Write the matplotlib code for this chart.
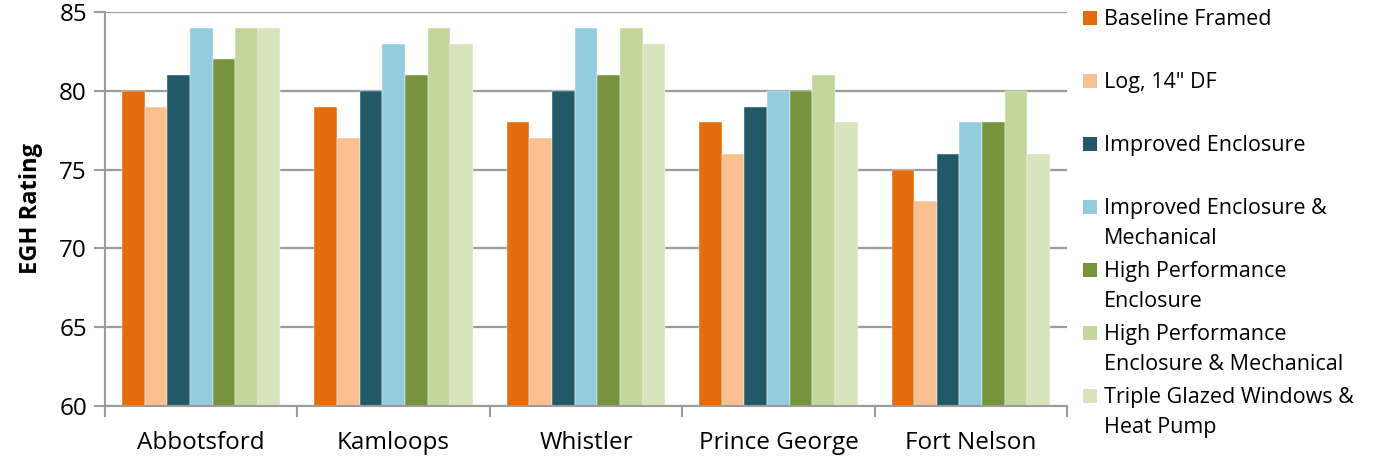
import matplotlib.pyplot as plt
from matplotlib.patches import Rectangle
import numpy as np

plt.rcParams['font.family'] = ['Open Sans', 'DejaVu Sans']

cities = ["Abbotsford", "Kamloops", "Whistler", "Prince George", "Fort Nelson"]

series_names = [
    "Baseline Framed",
    "Log, 14\" DF",
    "Improved Enclosure",
    "Improved Enclosure &\nMechanical",
    "High Performance\nEnclosure",
    "High Performance\nEnclosure & Mechanical",
    "Triple Glazed Windows &\nHeat Pump",
]

baseline_framed = [80, 79, 78, 78, 75]
log_14_df = [79, 77, 77, 76, 73]
improved_enclosure = [81, 80, 80, 79, 76]
improved_enc_mech = [84, 83, 84, 80, 78]
high_perf_enclosure = [82, 81, 81, 80, 78]
high_perf_enc_mech = [84, 84, 84, 81, 80]
triple_glazed_hp = [84, 83, 83, 78, 76]

series = [baseline_framed, log_14_df, improved_enclosure, improved_enc_mech,
          high_perf_enclosure, high_perf_enc_mech, triple_glazed_hp]
colors = ["#E46C0A", "#FAC090", "#215968", "#93CDDD",
          "#77933C", "#C3D69B", "#D7E4BD"]

W, H = 1380, 466
fig = plt.figure(figsize=(W / 100, H / 100), dpi=100)
ax = fig.add_axes([105 / W, 1 - 406 / H, 962 / W, 394 / H])

x = np.arange(len(cities))
width = 1 / 8.5
for i, (vals, c) in enumerate(zip(series, colors)):
    offs = (i - 3) * width
    ax.bar(x + offs, vals, width, color=c, zorder=2,
           edgecolor="white", linewidth=0.3)

ax.set_xlim(-0.5, len(cities) - 0.5)
ax.set_ylim(60, 85)
ax.set_yticks(range(60, 86, 5))
ax.yaxis.grid(True, color="#9C9C9C", linewidth=1.6, zorder=1)
ax.set_axisbelow(True)

ax.set_xticks(x)
ax.set_xticklabels(cities, fontsize=17.5)
ax.set_xticks(np.arange(-0.5, len(cities)), minor=True)
ax.tick_params(axis="x", which="major", length=0, pad=18)
ax.tick_params(axis="x", which="minor", length=8, width=1.5, color="#9C9C9C")
ax.tick_params(axis="y", length=8, width=1.5, color="#9C9C9C", labelsize=17.5, pad=5)

for side in ["top", "right"]:
    ax.spines[side].set_visible(False)
for side in ["left", "bottom"]:
    ax.spines[side].set_color("#9C9C9C")
    ax.spines[side].set_linewidth(1.5)

ax.set_ylabel("EGH Rating", fontsize=17, fontweight="bold", labelpad=12)

# legend: one entry every 63 px, label lines wrap below the swatch
for i, (name, c) in enumerate(zip(series_names, colors)):
    yc = 18 + 63 * i
    fig.patches.append(Rectangle((1083 / W, 1 - (yc + 7) / H), 14 / W, 14 / H,
                                 transform=fig.transFigure, facecolor=c,
                                 edgecolor="none"))
    fig.text(1104 / W, 1 - (yc - 9) / H, name, fontsize=15.5, va="top",
             ha="left", linespacing=1.55)

fig.savefig("out.png", dpi=100)
